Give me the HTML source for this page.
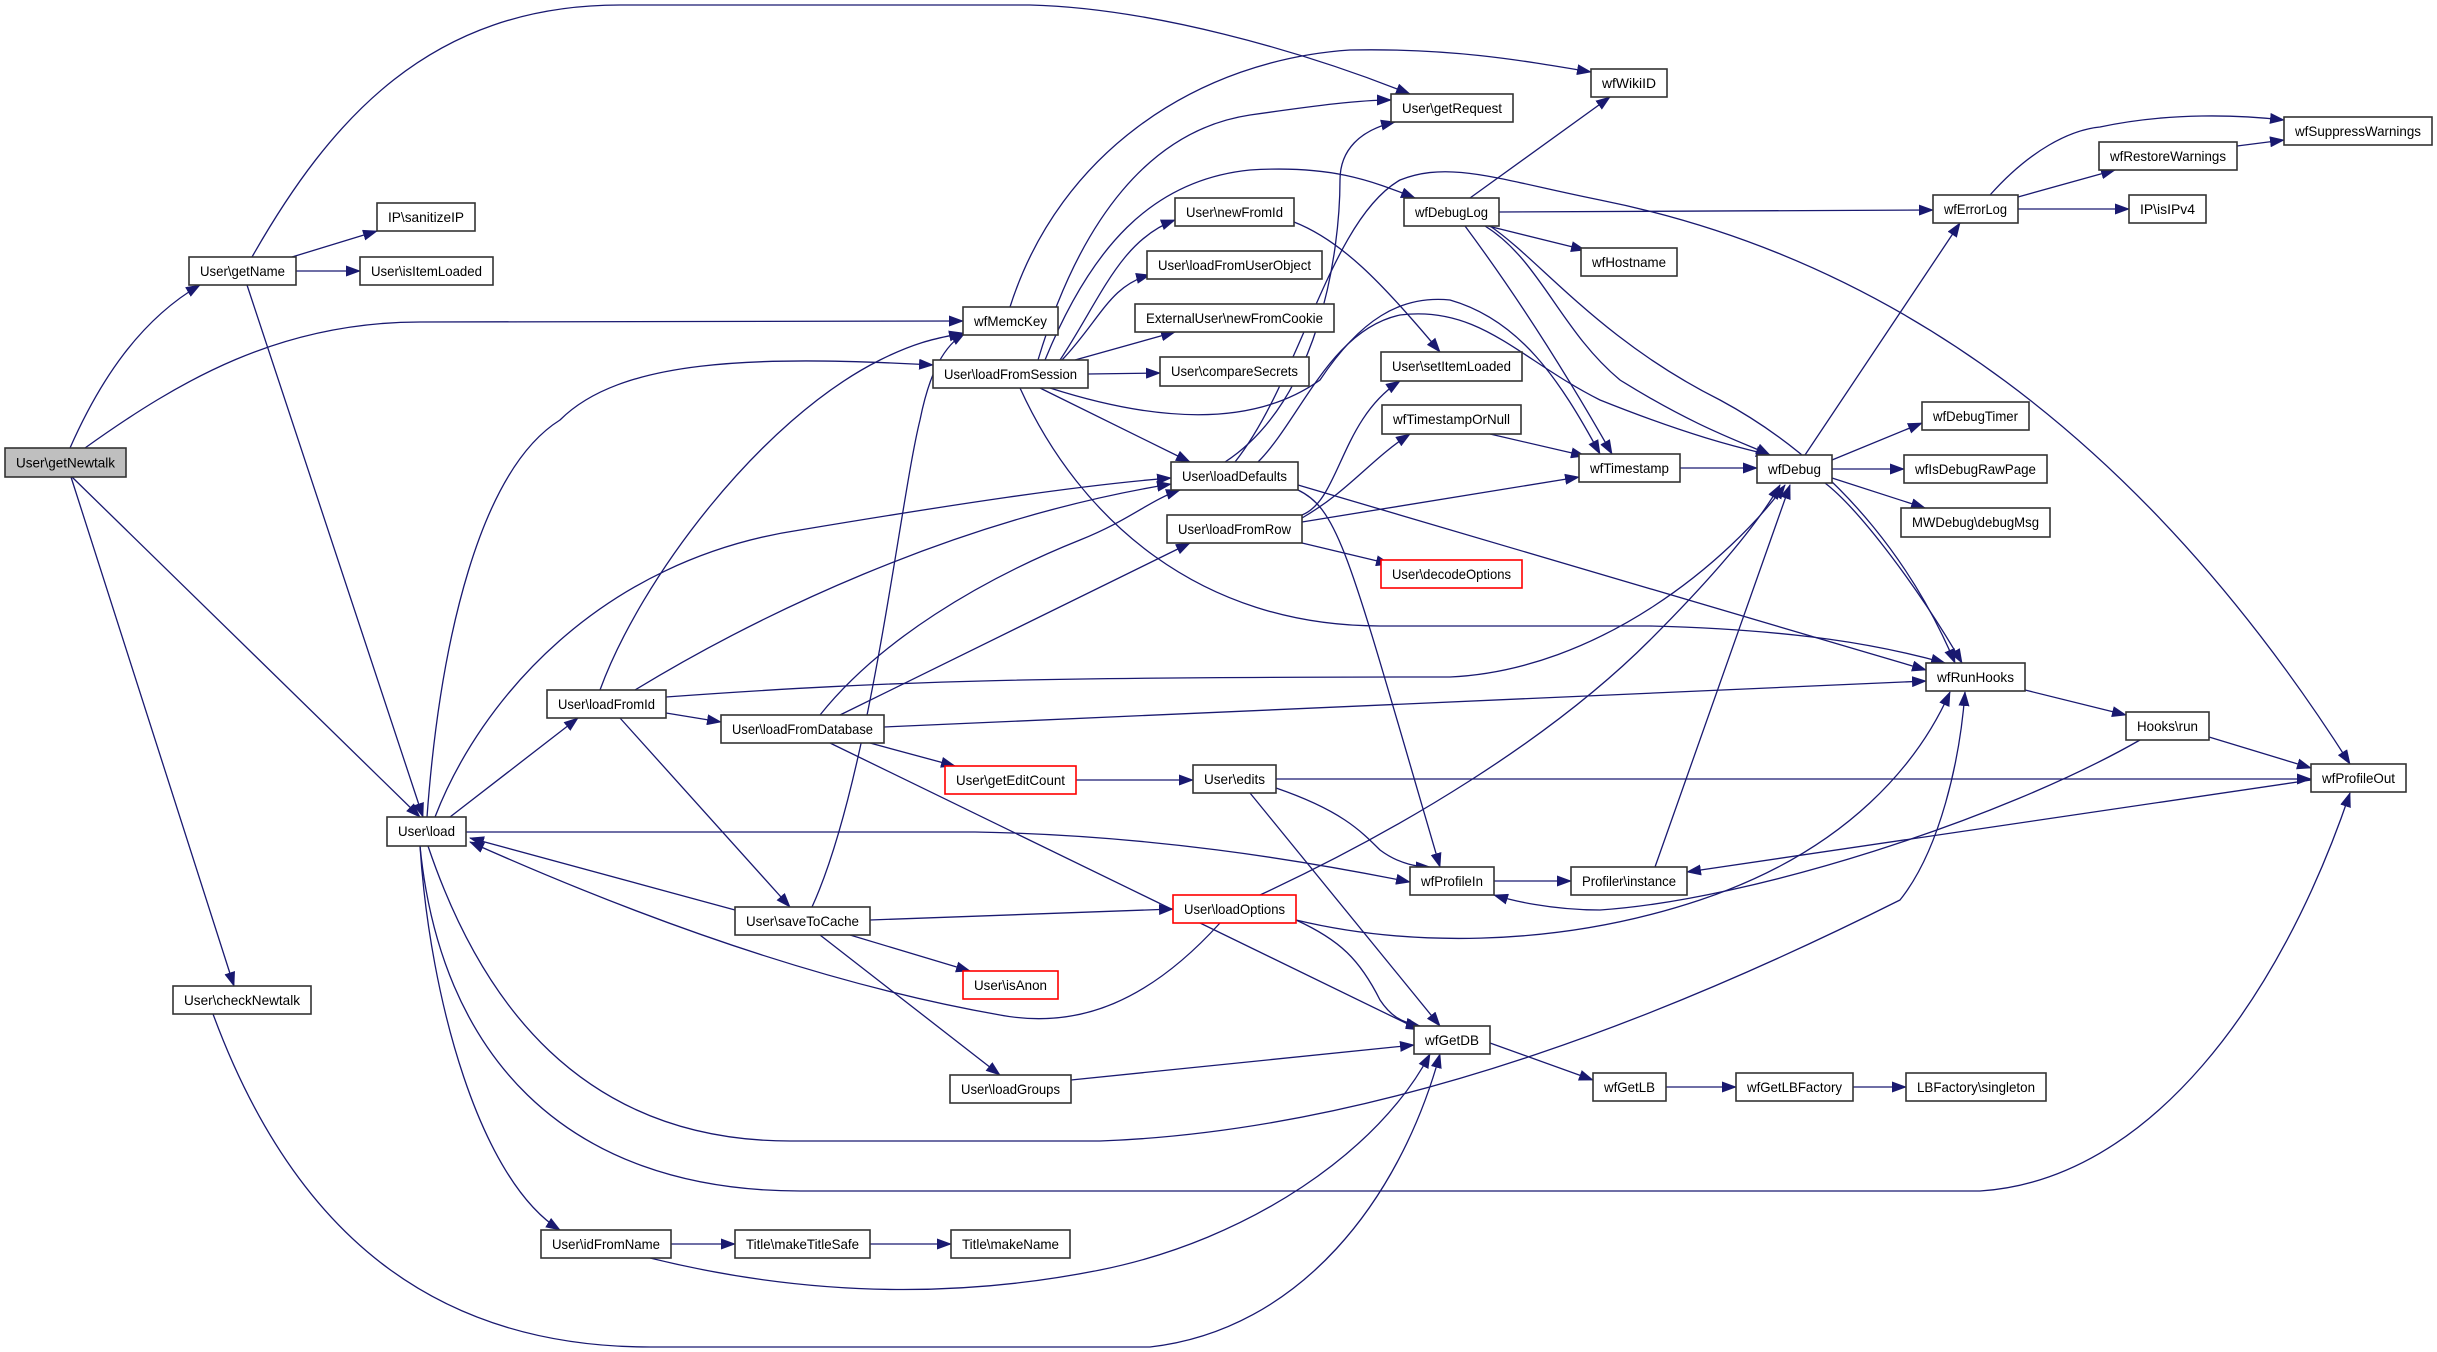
<!DOCTYPE html>
<html><head><meta charset="utf-8"><style>
html,body{margin:0;padding:0;background:#fff;}
svg{display:block;}
.e{fill:none;stroke:#191970;stroke-width:1.3;}
.n rect{fill:#fff;stroke:#333;stroke-width:1.6;}
.n text{font-family:"Liberation Sans",Arial,sans-serif;font-size:14px;fill:#000;text-anchor:middle;}
</style></head><body>
<svg width="2437" height="1352" viewBox="0 0 2437 1352" xmlns="http://www.w3.org/2000/svg">
<defs><marker id="a" markerUnits="userSpaceOnUse" markerWidth="15" markerHeight="11" refX="14" refY="5.5" orient="auto"><path d="M0,0 L15,5.5 L0,11 Z" fill="#191970"/></marker></defs>
<g class="e" marker-end="url(#a)">
<path d="M70,448 C100,380 140,320 200,285"/>
<path d="M85,448 C180,380 280,322 420,322 L963,321"/>
<path d="M72,477 L420,817"/>
<path d="M71,477 L234,986"/>
<path d="M252,257 C330,120 430,5 620,5 L1030,5 C1150,8 1300,50 1410,94"/>
<path d="M292,257 L377,231"/>
<path d="M296,271 L360,271"/>
<path d="M247,285 L423,817"/>
<path d="M427,817 C440,640 480,470 560,420 C620,360 750,355 933,365"/>
<path d="M450,817 L578,718"/>
<path d="M435,817 C480,700 600,560 800,530 C950,505 1080,485 1171,478"/>
<path d="M466,832 L975,832 C1150,835 1300,860 1410,882"/>
<path d="M420,846 C430,1000 480,1180 560,1230"/>
<path d="M428,846 C480,1000 580,1141 790,1141 L1100,1141 C1400,1130 1700,1000 1900,900 C1940,850 1960,760 1965,692"/>
<path d="M420,846 C440,1050 560,1191 800,1191 L1980,1191 C2150,1180 2280,1000 2350,793"/>
<path d="M600,690 C640,580 760,420 880,360 C920,340 940,338 963,333"/>
<path d="M635,690 C750,620 950,520 1171,484"/>
<path d="M666,697 C900,680 1050,677 1450,677 C1600,670 1730,560 1785,485"/>
<path d="M666,713 L721,722"/>
<path d="M620,718 L790,907"/>
<path d="M820,715 C880,640 980,580 1080,540 C1130,520 1150,500 1180,490"/>
<path d="M840,715 L1190,543"/>
<path d="M884,727 L1926,681"/>
<path d="M870,743 L955,766"/>
<path d="M830,743 L1420,1030"/>
<path d="M1038,360 C1080,220 1150,130 1250,115 C1320,105 1360,100 1391,100"/>
<path d="M1045,360 C1090,250 1150,180 1250,170 C1330,165 1370,180 1415,198"/>
<path d="M1010,307 C1060,150 1200,60 1350,50 C1450,48 1520,60 1591,72"/>
<path d="M1060,360 C1100,300 1120,240 1175,220"/>
<path d="M1062,360 C1100,320 1110,285 1150,275"/>
<path d="M1075,360 L1175,332"/>
<path d="M1088,374 L1160,373"/>
<path d="M1040,388 L1190,462"/>
<path d="M1020,388 C1080,520 1200,626 1380,626 L1650,626 C1800,630 1880,645 1945,663"/>
<path d="M1050,388 C1150,420 1250,430 1320,380 C1360,320 1400,295 1450,300 C1520,320 1560,380 1600,454"/>
<path d="M1258,462 C1300,420 1330,330 1400,315 C1480,305 1520,360 1600,400 C1700,440 1750,450 1770,455"/>
<path d="M1225,462 C1320,400 1340,250 1340,180 C1340,150 1360,130 1395,122"/>
<path d="M1235,462 C1300,380 1330,220 1400,180 C1450,160 1500,180 1600,200 C1900,260 2150,450 2350,764"/>
<path d="M1298,485 L1926,670"/>
<path d="M1298,490 C1340,510 1350,560 1440,867"/>
<path d="M1294,222 C1340,240 1380,280 1440,352"/>
<path d="M1302,515 C1340,500 1340,420 1400,381"/>
<path d="M1302,518 C1350,490 1370,460 1410,434"/>
<path d="M1302,522 L1579,477"/>
<path d="M1302,543 L1390,564"/>
<path d="M1490,434 L1585,456"/>
<path d="M1680,468 L1757,468"/>
<path d="M1470,198 L1610,97"/>
<path d="M1488,226 L1585,250"/>
<path d="M1499,212 L1933,210"/>
<path d="M1465,226 C1520,300 1570,380 1612,454"/>
<path d="M1485,226 C1540,260 1560,330 1620,380 C1700,430 1750,445 1770,455"/>
<path d="M1490,226 C1540,260 1600,340 1720,400 C1850,470 1920,580 1955,663"/>
<path d="M1805,455 L1960,223"/>
<path d="M1832,460 L1922,423"/>
<path d="M1832,469 L1904,469"/>
<path d="M1832,478 L1925,508"/>
<path d="M1825,483 C1860,510 1920,590 1962,663"/>
<path d="M1990,195 C2030,150 2070,130 2100,127 C2170,112 2240,115 2284,120"/>
<path d="M2018,197 L2115,170"/>
<path d="M2018,209 L2129,209"/>
<path d="M2237,146 L2284,140"/>
<path d="M2025,690 L2126,715"/>
<path d="M2209,737 L2311,768"/>
<path d="M2140,740 C2000,820 1750,900 1600,910 C1550,910 1510,900 1494,895"/>
<path d="M2311,780 L1687,872"/>
<path d="M1494,881 L1571,881"/>
<path d="M1655,867 L1790,485"/>
<path d="M1076,780 L1193,780"/>
<path d="M1276,779 L2311,779"/>
<path d="M1276,788 C1340,810 1360,830 1380,850 C1400,865 1420,867 1430,867"/>
<path d="M1250,793 L1440,1026"/>
<path d="M1260,895 C1400,830 1550,740 1650,640 C1720,570 1760,520 1780,485"/>
<path d="M1296,920 C1400,945 1550,950 1700,900 C1850,850 1920,760 1950,692"/>
<path d="M1296,920 C1340,940 1360,960 1380,1000 C1390,1015 1400,1022 1420,1026"/>
<path d="M1220,923 C1150,1000 1080,1030 1000,1015 C800,980 600,900 470,842"/>
<path d="M735,910 L470,838"/>
<path d="M812,907 C870,780 900,500 920,420 C930,370 945,345 965,333"/>
<path d="M870,920 L1173,909"/>
<path d="M850,935 L970,971"/>
<path d="M820,935 L1000,1075"/>
<path d="M1071,1080 L1414,1045"/>
<path d="M671,1244 L735,1244"/>
<path d="M870,1244 L951,1244"/>
<path d="M650,1258 C800,1295 950,1300 1100,1270 C1250,1240 1380,1150 1430,1054"/>
<path d="M213,1014 C300,1250 450,1347 650,1347 L1150,1347 C1300,1330 1400,1200 1440,1054"/>
<path d="M1490,1043 L1593,1080"/>
<path d="M1666,1087 L1736,1087"/>
<path d="M1853,1087 L1906,1087"/>
</g>
<g class="n">
<rect x="5" y="448" width="121" height="29" style="fill:#bfbfbf"/><text x="65.5" y="467.5" textLength="99" lengthAdjust="spacingAndGlyphs">User\getNewtalk</text>
<rect x="189" y="257" width="107" height="28"/><text x="242.5" y="276" textLength="85" lengthAdjust="spacingAndGlyphs">User\getName</text>
<rect x="377" y="203" width="98" height="28"/><text x="426" y="222" textLength="76" lengthAdjust="spacingAndGlyphs">IP\sanitizeIP</text>
<rect x="360" y="257" width="133" height="28"/><text x="426.5" y="276" textLength="111" lengthAdjust="spacingAndGlyphs">User\isItemLoaded</text>
<rect x="963" y="307" width="95" height="28"/><text x="1010.5" y="326" textLength="73" lengthAdjust="spacingAndGlyphs">wfMemcKey</text>
<rect x="933" y="360" width="155" height="28"/><text x="1010.5" y="379" textLength="133" lengthAdjust="spacingAndGlyphs">User\loadFromSession</text>
<rect x="1391" y="94" width="122" height="28"/><text x="1452" y="113" textLength="100" lengthAdjust="spacingAndGlyphs">User\getRequest</text>
<rect x="1591" y="69" width="76" height="28"/><text x="1629" y="88" textLength="54" lengthAdjust="spacingAndGlyphs">wfWikiID</text>
<rect x="1404" y="198" width="95" height="28"/><text x="1451.5" y="217" textLength="73" lengthAdjust="spacingAndGlyphs">wfDebugLog</text>
<rect x="1175" y="198" width="119" height="28"/><text x="1234.5" y="217" textLength="97" lengthAdjust="spacingAndGlyphs">User\newFromId</text>
<rect x="1147" y="251" width="175" height="28"/><text x="1234.5" y="270" textLength="153" lengthAdjust="spacingAndGlyphs">User\loadFromUserObject</text>
<rect x="1135" y="304" width="199" height="28"/><text x="1234.5" y="323" textLength="177" lengthAdjust="spacingAndGlyphs">ExternalUser\newFromCookie</text>
<rect x="1160" y="357" width="149" height="29"/><text x="1234.5" y="376" textLength="127" lengthAdjust="spacingAndGlyphs">User\compareSecrets</text>
<rect x="1381" y="352" width="141" height="29"/><text x="1451.5" y="371" textLength="119" lengthAdjust="spacingAndGlyphs">User\setItemLoaded</text>
<rect x="1581" y="248" width="96" height="28"/><text x="1629" y="267" textLength="74" lengthAdjust="spacingAndGlyphs">wfHostname</text>
<rect x="1382" y="405" width="139" height="29"/><text x="1451.5" y="424" textLength="117" lengthAdjust="spacingAndGlyphs">wfTimestampOrNull</text>
<rect x="1171" y="462" width="127" height="28"/><text x="1234.5" y="481" textLength="105" lengthAdjust="spacingAndGlyphs">User\loadDefaults</text>
<rect x="1167" y="515" width="135" height="28"/><text x="1234.5" y="534" textLength="113" lengthAdjust="spacingAndGlyphs">User\loadFromRow</text>
<rect x="1381" y="560" width="141" height="28" style="stroke:#f00"/><text x="1451.5" y="579" textLength="119" lengthAdjust="spacingAndGlyphs">User\decodeOptions</text>
<rect x="1579" y="454" width="101" height="28"/><text x="1629.5" y="473" textLength="79" lengthAdjust="spacingAndGlyphs">wfTimestamp</text>
<rect x="1757" y="455" width="75" height="28"/><text x="1794.5" y="474" textLength="53" lengthAdjust="spacingAndGlyphs">wfDebug</text>
<rect x="1933" y="195" width="85" height="28"/><text x="1975.5" y="214" textLength="63" lengthAdjust="spacingAndGlyphs">wfErrorLog</text>
<rect x="2099" y="142" width="138" height="28"/><text x="2168" y="161" textLength="116" lengthAdjust="spacingAndGlyphs">wfRestoreWarnings</text>
<rect x="2284" y="117" width="148" height="28"/><text x="2358" y="136" textLength="126" lengthAdjust="spacingAndGlyphs">wfSuppressWarnings</text>
<rect x="2129" y="195" width="77" height="28"/><text x="2167.5" y="214" textLength="55" lengthAdjust="spacingAndGlyphs">IP\isIPv4</text>
<rect x="1922" y="402" width="107" height="28"/><text x="1975.5" y="421" textLength="85" lengthAdjust="spacingAndGlyphs">wfDebugTimer</text>
<rect x="1904" y="455" width="143" height="28"/><text x="1975.5" y="474" textLength="121" lengthAdjust="spacingAndGlyphs">wfIsDebugRawPage</text>
<rect x="1901" y="508" width="149" height="29"/><text x="1975.5" y="527" textLength="127" lengthAdjust="spacingAndGlyphs">MWDebug\debugMsg</text>
<rect x="1926" y="663" width="99" height="28"/><text x="1975.5" y="682" textLength="77" lengthAdjust="spacingAndGlyphs">wfRunHooks</text>
<rect x="2126" y="712" width="83" height="28"/><text x="2167.5" y="731" textLength="61" lengthAdjust="spacingAndGlyphs">Hooks\run</text>
<rect x="2311" y="764" width="95" height="28"/><text x="2358.5" y="783" textLength="73" lengthAdjust="spacingAndGlyphs">wfProfileOut</text>
<rect x="547" y="690" width="119" height="28"/><text x="606.5" y="709" textLength="97" lengthAdjust="spacingAndGlyphs">User\loadFromId</text>
<rect x="721" y="715" width="163" height="28"/><text x="802.5" y="734" textLength="141" lengthAdjust="spacingAndGlyphs">User\loadFromDatabase</text>
<rect x="945" y="766" width="131" height="28" style="stroke:#f00"/><text x="1010.5" y="785" textLength="109" lengthAdjust="spacingAndGlyphs">User\getEditCount</text>
<rect x="1193" y="765" width="83" height="28"/><text x="1234.5" y="784" textLength="61" lengthAdjust="spacingAndGlyphs">User\edits</text>
<rect x="1410" y="867" width="84" height="28"/><text x="1452" y="886" textLength="62" lengthAdjust="spacingAndGlyphs">wfProfileIn</text>
<rect x="1571" y="867" width="116" height="28"/><text x="1629" y="886" textLength="94" lengthAdjust="spacingAndGlyphs">Profiler\instance</text>
<rect x="387" y="817" width="79" height="29"/><text x="426.5" y="836" textLength="57" lengthAdjust="spacingAndGlyphs">User\load</text>
<rect x="735" y="907" width="135" height="28"/><text x="802.5" y="926" textLength="113" lengthAdjust="spacingAndGlyphs">User\saveToCache</text>
<rect x="1173" y="895" width="123" height="28" style="stroke:#f00"/><text x="1234.5" y="914" textLength="101" lengthAdjust="spacingAndGlyphs">User\loadOptions</text>
<rect x="963" y="971" width="95" height="28" style="stroke:#f00"/><text x="1010.5" y="990" textLength="73" lengthAdjust="spacingAndGlyphs">User\isAnon</text>
<rect x="950" y="1075" width="121" height="28"/><text x="1010.5" y="1094" textLength="99" lengthAdjust="spacingAndGlyphs">User\loadGroups</text>
<rect x="541" y="1230" width="130" height="28"/><text x="606" y="1249" textLength="108" lengthAdjust="spacingAndGlyphs">User\idFromName</text>
<rect x="735" y="1230" width="135" height="28"/><text x="802.5" y="1249" textLength="113" lengthAdjust="spacingAndGlyphs">Title\makeTitleSafe</text>
<rect x="951" y="1230" width="119" height="28"/><text x="1010.5" y="1249" textLength="97" lengthAdjust="spacingAndGlyphs">Title\makeName</text>
<rect x="173" y="986" width="138" height="28"/><text x="242" y="1005" textLength="116" lengthAdjust="spacingAndGlyphs">User\checkNewtalk</text>
<rect x="1414" y="1026" width="76" height="28"/><text x="1452" y="1045" textLength="54" lengthAdjust="spacingAndGlyphs">wfGetDB</text>
<rect x="1593" y="1073" width="73" height="28"/><text x="1629.5" y="1092" textLength="51" lengthAdjust="spacingAndGlyphs">wfGetLB</text>
<rect x="1736" y="1073" width="117" height="28"/><text x="1794.5" y="1092" textLength="95" lengthAdjust="spacingAndGlyphs">wfGetLBFactory</text>
<rect x="1906" y="1073" width="140" height="28"/><text x="1976" y="1092" textLength="118" lengthAdjust="spacingAndGlyphs">LBFactory\singleton</text>
</g>
</svg>
</body></html>
